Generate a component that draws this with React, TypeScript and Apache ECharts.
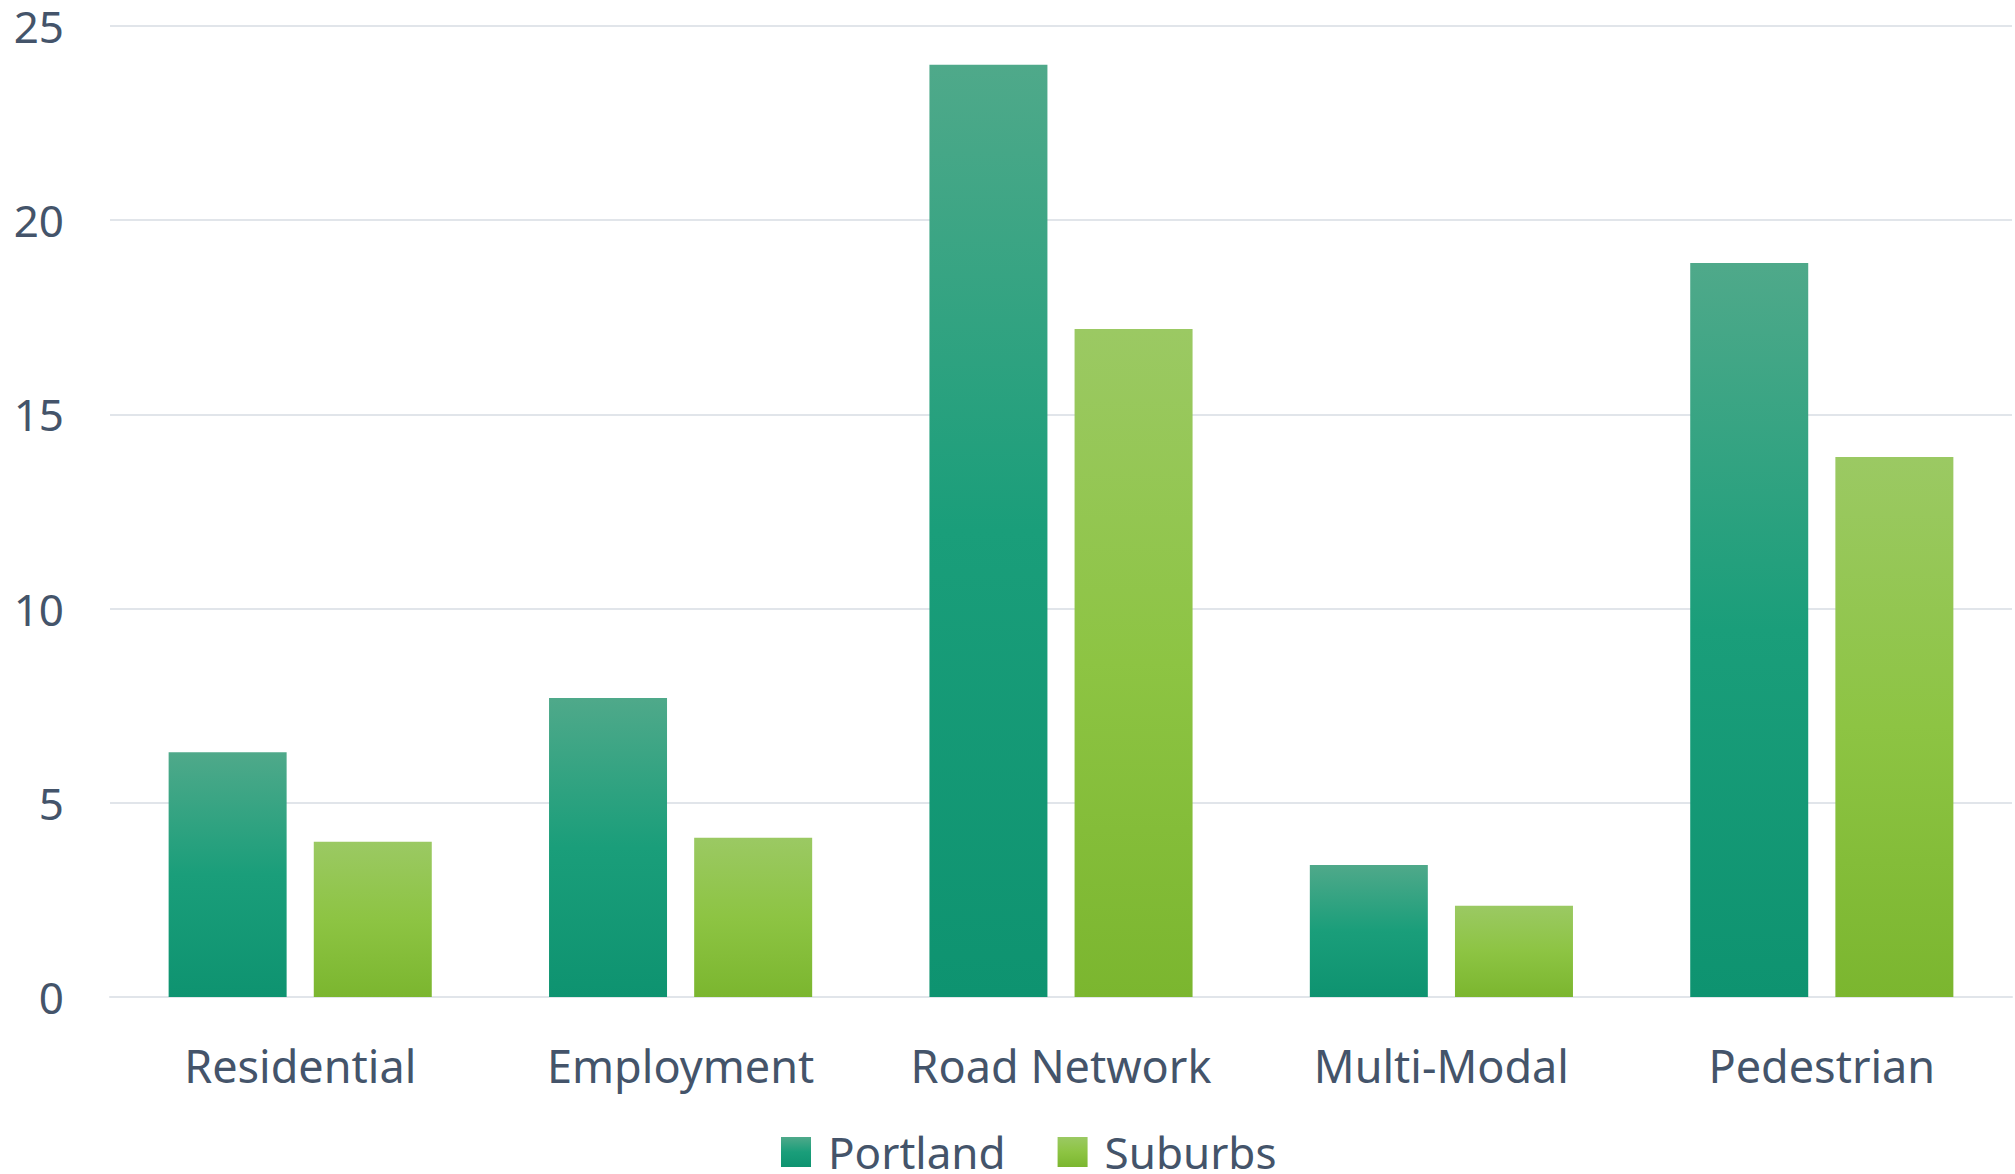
import React, { useEffect, useRef } from "react";
import * as echarts from "echarts";

const categories = ["Residential", "Employment", "Road Network", "Multi-Modal", "Pedestrian"];
const portland = [6.3, 7.7, 24.0, 3.4, 18.9];
const suburbs = [4.0, 4.1, 17.2, 2.35, 13.9];
const seriesNames = ["Portland", "Suburbs"];

const TEXT = "#44546A";
const FONT = "Noto Sans";

export default function App() {
  const ref = useRef<HTMLDivElement>(null);
  useEffect(() => {
    document.body.style.margin = "0";
    const chart = echarts.init(ref.current!, null, { renderer: "svg" });
    const grad = (top: string, mid: string, bottom: string) =>
      new echarts.graphic.LinearGradient(0, 0, 0, 1, [
        { offset: 0, color: top },
        { offset: 0.5, color: mid },
        { offset: 1, color: bottom },
      ]);
    chart.setOption({
      animation: false,
      backgroundColor: "#ffffff",
      textStyle: { fontFamily: FONT },
      grid: { left: 110, right: 3, top: 26, bottom: 177, containLabel: false },
      legend: {
        data: seriesNames,
        left: 781,
        top: 1130,
        padding: 0,
        itemWidth: 30,
        itemHeight: 30,
        itemGap: 52,
        icon: "rect",
        textStyle: { color: TEXT, fontSize: 44, fontFamily: FONT, lineHeight: 44, padding: [0, 0, 0, 12] },
      },
      xAxis: {
        type: "category",
        data: categories,
        axisLine: { show: true, lineStyle: { color: "#E1E5EA", width: 2 } },
        axisTick: { show: false },
        axisLabel: { color: TEXT, fontSize: 45, fontFamily: FONT, margin: 46, interval: 0 },
      },
      yAxis: {
        type: "value",
        min: 0,
        max: 25,
        interval: 5,
        axisLine: { show: false },
        axisTick: { show: false },
        splitLine: { lineStyle: { color: "#E1E5EA", width: 2 } },
        axisLabel: { color: TEXT, fontSize: 44, fontFamily: FONT, margin: 46, lineHeight: 30 },
      },
      series: [
        {
          name: seriesNames[0],
          type: "bar",
          data: portland,
          barWidth: 118,
          barGap: "23%",
          itemStyle: { color: grad("#4FA98A", "#1A9E7A", "#0E9370") },
        },
        {
          name: seriesNames[1],
          type: "bar",
          data: suburbs,
          barWidth: 118,
          barGap: "23%",
          itemStyle: { color: grad("#9BC963", "#8DC443", "#7BB62F") },
        },
      ],
    });
    return () => chart.dispose();
  }, []);
  return <div ref={ref} style={{ position: "absolute", left: 0, top: 0, width: 2015, height: 1174 }} />;
}
